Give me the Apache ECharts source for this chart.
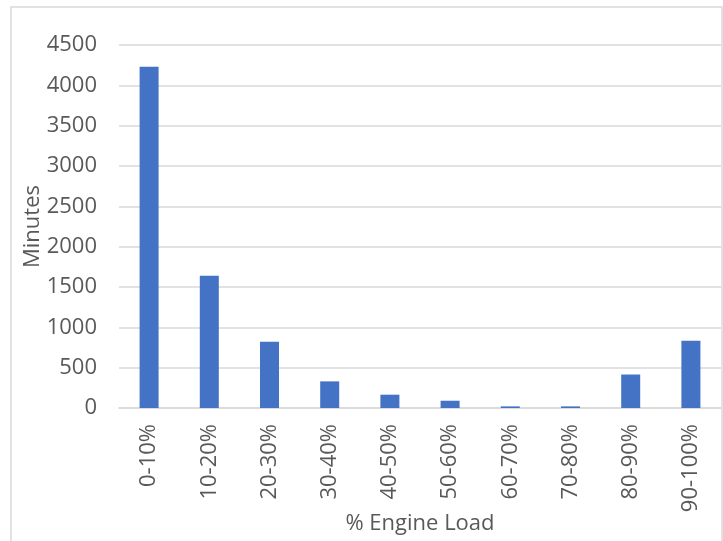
<!DOCTYPE html>
<html>
<head>
<meta charset="utf-8">
<script src="https://cdn.jsdelivr.net/npm/echarts@6/dist/echarts.min.js"></script>
<style>
  html, body { margin: 0; padding: 0; background: #fff; }
  #chart { width: 723px; height: 541px; }
</style>
</head>
<body>
<div id="chart"></div>
<script>
// Engine load bands and minutes spent in each
const loadBands = ['0-10%', '10-20%', '20-30%', '30-40%', '40-50%', '50-60%', '60-70%', '70-80%', '80-90%', '90-100%'];
const minutes = [4230, 1640, 820, 330, 165, 90, 20, 20, 415, 835];

const FONT = '"Open Sans", "Noto Sans", sans-serif';
const TEXT = '#595959';
const GRID_LINE = '#d9d9d9';

const chart = echarts.init(document.getElementById('chart'), null, { renderer: 'canvas' });

chart.setOption({
  animation: false,
  backgroundColor: '#ffffff',
  textStyle: { fontFamily: FONT },
  graphic: [{
    type: 'rect',
    shape: { x: 11, y: 7, width: 711, height: 545 },
    style: { fill: 'none', stroke: GRID_LINE, lineWidth: 1.5 },
    silent: true
  }],
  grid: { left: 119, right: 2, top: 45, bottom: 133, containLabel: false, outerBoundsMode: 'none' },
  xAxis: {
    type: 'category',
    data: loadBands,
    name: '% Engine Load',
    nameLocation: 'middle',
    nameGap: 105,
    nameMoveOverlap: false,
    nameTextStyle: { color: TEXT, fontSize: 22, fontFamily: FONT },
    axisLine: { show: true, lineStyle: { color: GRID_LINE, width: 1.5 } },
    axisTick: { show: false },
    axisLabel: { rotate: 90, color: TEXT, fontSize: 22, fontFamily: FONT, margin: 16, interval: 0 }
  },
  yAxis: {
    type: 'value',
    min: 0,
    max: 4500,
    interval: 500,
    name: 'Minutes',
    nameLocation: 'middle',
    nameGap: 75,
    nameMoveOverlap: false,
    nameTextStyle: { color: TEXT, fontSize: 22, fontFamily: FONT },
    axisLine: { show: false },
    axisTick: { show: false },
    axisLabel: { color: TEXT, fontSize: 22, fontFamily: FONT, margin: 22, formatter: (v) => String(v) },
    splitLine: { show: true, lineStyle: { color: GRID_LINE, width: 1.5 } }
  },
  series: [{
    type: 'bar',
    data: minutes,
    barWidth: 19,
    itemStyle: { color: '#4472C4' }
  }]
});
</script>
</body>
</html>
